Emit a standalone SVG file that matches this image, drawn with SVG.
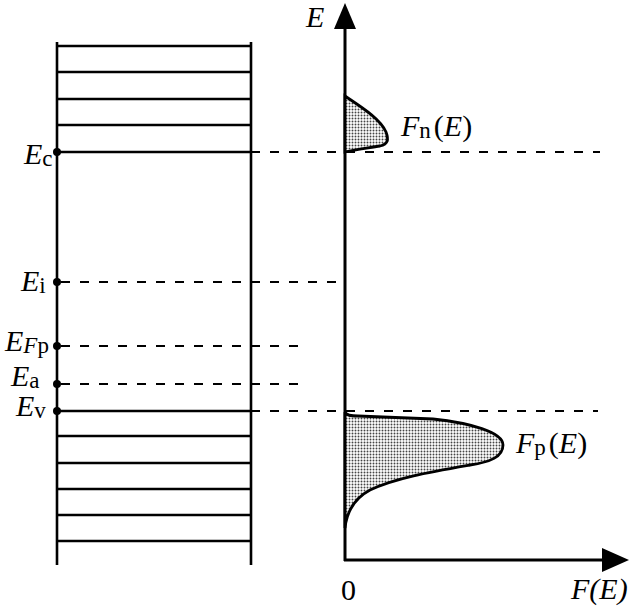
<svg xmlns="http://www.w3.org/2000/svg" width="638" height="611" viewBox="0 0 638 611">
<defs>
<pattern id="dots" width="3" height="3" patternUnits="userSpaceOnUse">
<rect width="3" height="3" fill="#ffffff"/>
<circle cx="1.5" cy="1.5" r="0.95" fill="#444"/>
</pattern>
<style>
.band{stroke:#000;stroke-width:2.6;fill:none}
.axis{stroke:#000;stroke-width:3;fill:none}
.dash{stroke:#000;stroke-width:2;stroke-dasharray:9 10;fill:none}
.curve{stroke:#000;stroke-width:2.8;fill:url(#dots)}
.lab{font-family:"Liberation Serif","Times New Roman",serif;font-size:30px;fill:#000}
.it{font-style:italic}
.sub{font-size:23px;font-style:normal}
</style>
</defs>
<rect width="638" height="611" fill="#fff"/>

<g id="band-diagram">
<line class="band" x1="57" y1="42" x2="57" y2="565"/>
<line class="band" x1="251" y1="42" x2="251" y2="565"/>
<line class="band" x1="57" y1="46" x2="251" y2="46"/>
<line class="band" x1="57" y1="72" x2="251" y2="72"/>
<line class="band" x1="57" y1="99" x2="251" y2="99"/>
<line class="band" x1="57" y1="125" x2="251" y2="125"/>
<line class="band" x1="57" y1="152" x2="251" y2="152"/>
<line class="band" x1="57" y1="411" x2="251" y2="411"/>
<line class="band" x1="57" y1="436" x2="251" y2="436"/>
<line class="band" x1="57" y1="463" x2="251" y2="463"/>
<line class="band" x1="57" y1="489" x2="251" y2="489"/>
<line class="band" x1="57" y1="515" x2="251" y2="515"/>
<line class="band" x1="57" y1="541" x2="251" y2="541"/>
</g>

<g id="connectors">
<line class="dash" x1="251" y1="152" x2="600" y2="152"/>
<line class="dash" x1="61" y1="282" x2="345" y2="282"/>
<line class="dash" x1="61" y1="346" x2="298" y2="346"/>
<line class="dash" x1="61" y1="384" x2="298" y2="384"/>
<line class="dash" x1="251" y1="411" x2="598" y2="411"/>
</g>

<g id="level-Ec">
<circle cx="57" cy="152" r="4"/>
<text class="lab it" x="24" y="164">E<tspan class="sub" dy="2">c</tspan></text>
</g>
<g id="level-Ei">
<circle cx="57" cy="282" r="4"/>
<text class="lab it" x="21" y="291">E<tspan class="sub" dy="2">i</tspan></text>
</g>
<g id="level-EFp">
<circle cx="57" cy="346" r="4"/>
<text class="lab it" x="5" y="351">E<tspan class="sub" dy="2" style="font-style:italic">F</tspan><tspan class="sub">p</tspan></text>
</g>
<g id="level-Ea">
<circle cx="57" cy="384" r="4"/>
<text class="lab it" x="11" y="386">E<tspan class="sub" dy="2">a</tspan></text>
</g>
<g id="level-Ev">
<circle cx="57" cy="411" r="4"/>
<text class="lab it" x="16" y="416">E<tspan class="sub" dy="2">v</tspan></text>
</g>

<g id="axes">
<line class="axis" x1="345" y1="561" x2="345" y2="24"/>
<polygon points="345,3 334,29 356,29" fill="#000"/>
<line class="axis" x1="344" y1="560" x2="606" y2="560"/>
<polygon points="629,560 602,548 602,572" fill="#000"/>
<text class="lab it" x="306" y="27">E</text>
<text class="lab" x="341" y="600">0</text>
<text class="lab it" x="571" y="599">F(E)</text>
</g>

<g id="Fn-curve">
<path class="curve" d="M345,96 C358,105 380,118 386,132 C389,140 388,144 380,146 C368,148 352,150 345,152 Z"/>
<text class="lab" x="401" y="136"><tspan class="it">F</tspan><tspan class="sub" dy="2">n</tspan><tspan dy="-2" dx="3">(</tspan><tspan class="it">E</tspan>)</text>
</g>

<g id="Fp-curve">
<path class="curve" d="M345,412 C346,415 349,416 358,416 L433,419 C470,423 503,432 503,445 C503,457 490,462 470,465 C430,472 395,478 370,490 C355,498 347,510 345,528 Z"/>
<text class="lab" x="516" y="453"><tspan class="it">F</tspan><tspan class="sub" dy="2">p</tspan><tspan dy="-2" dx="3">(</tspan><tspan class="it">E</tspan>)</text>
</g>
</svg>
